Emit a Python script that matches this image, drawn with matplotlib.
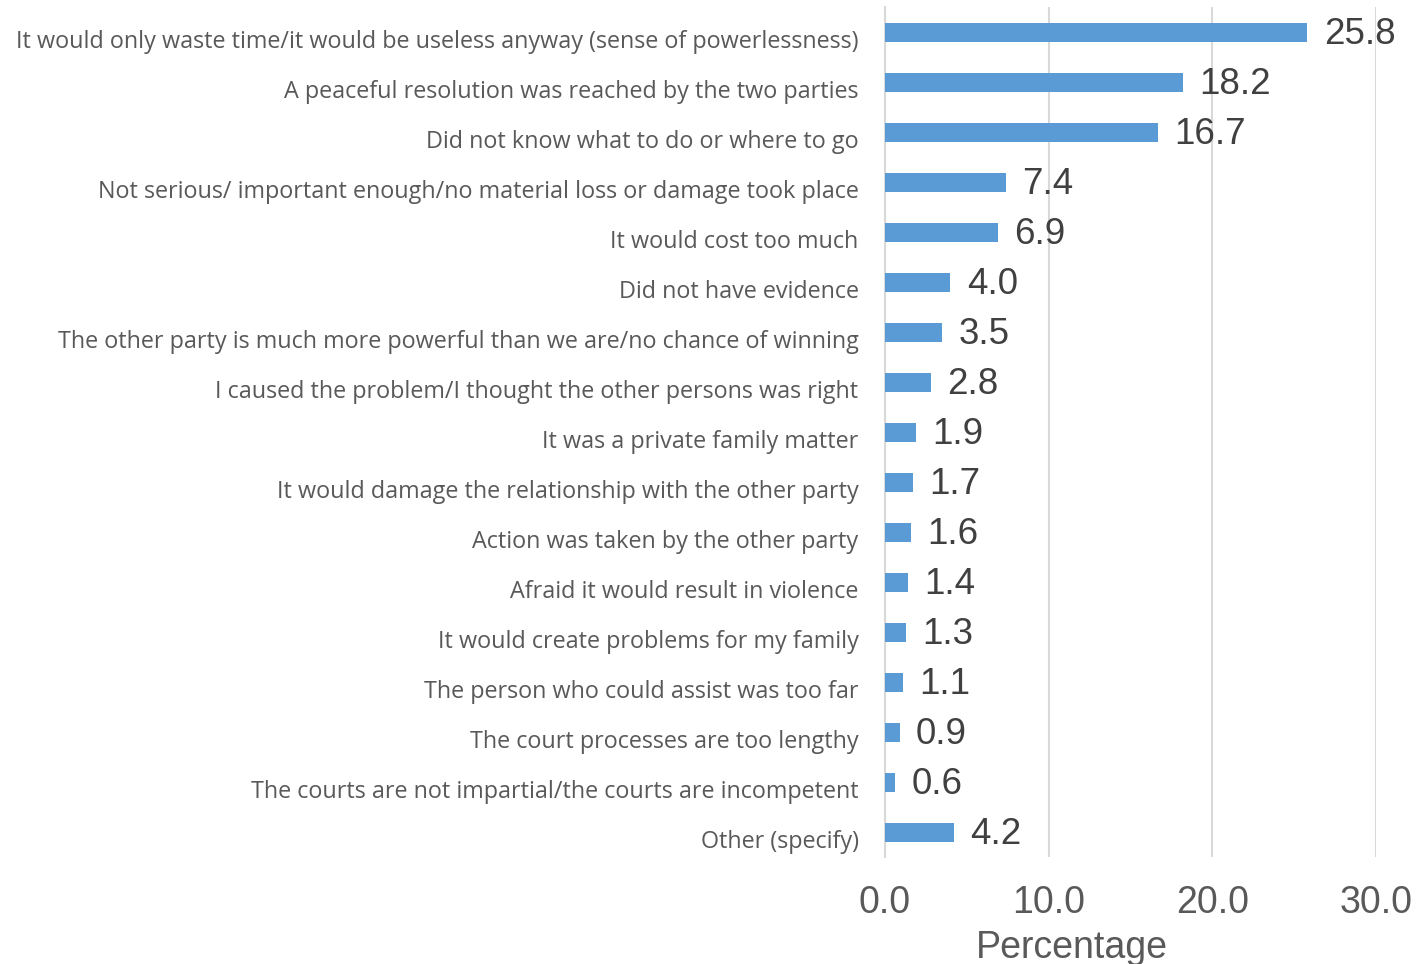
import matplotlib
matplotlib.use("Agg")
import matplotlib.pyplot as plt
from matplotlib.transforms import ScaledTranslation

# reasons for not taking action, percentage of respondents
reasons = [
    "It would only waste time/it would be useless anyway (sense of powerlessness)",
    "A peaceful resolution was reached by the two parties",
    "Did not know what to do or where to go",
    "Not serious/ important enough/no material loss or damage took place",
    "It would cost too much",
    "Did not have evidence",
    "The other party is much more powerful than we are/no chance of winning",
    "I caused the problem/I thought the other persons was right",
    "It was a private family matter",
    "It would damage the relationship with the other party",
    "Action was taken by the other party",
    "Afraid it would result in violence",
    "It would create problems for my family",
    "The person who could assist was too far",
    "The court processes are too lengthy",
    "The courts are not impartial/the courts are incompetent",
    "Other (specify)",
]
percent = [25.8, 18.2, 16.7, 7.4, 6.9, 4.0, 3.5, 2.8, 1.9, 1.7, 1.6, 1.4, 1.3, 1.1, 0.9, 0.6, 4.2]
xticks = [0, 10, 20, 30]

fig = plt.figure(figsize=(14.28, 9.64), dpi=100)
ax = fig.add_axes([885 / 1428, 1 - 857 / 964, 491 / 1428, 850 / 964])

ypos = list(range(len(reasons)))
ax.barh(ypos, percent, height=0.38, color="#5b9bd5", zorder=3)

down3 = ScaledTranslation(0, -3 / 100, fig.dpi_scale_trans)
for y, v in zip(ypos, percent):
    ax.text(v + 1.0, y, f"{v:.1f}", va="center", ha="left",
            fontsize=26.5, color="#404040", family="Liberation Sans", zorder=4,
            transform=ax.transData + down3)

ax.set_ylim(len(reasons) - 0.5, -0.5)
ax.set_xlim(0, 30)
ax.set_yticks(ypos)
ax.set_yticklabels(reasons, fontsize=16.8, color="#595959", family="Open Sans")
ax.set_xticks(xticks)
ax.set_xticklabels([f"{t:.1f}" for t in xticks], fontsize=27, color="#595959",
                   family="Liberation Sans")
ax.tick_params(axis="both", length=0)
ax.tick_params(axis="y", pad=19)
ax.tick_params(axis="x", pad=20)

# category labels sit a little lower than the bars
down7 = ScaledTranslation(0, -7 / 100, fig.dpi_scale_trans)
for lab in ax.get_yticklabels():
    lab.set_transform(lab.get_transform() + down7)

ax.set_xlabel("Percentage", fontsize=27, color="#595959", family="Liberation Sans")
ax.xaxis.set_label_coords((1072 - 885) / 491, -91 / 850)
ax.xaxis.label.set_va("center")

ax.grid(axis="x", color="#d9d9d9", linewidth=1.5, zorder=0)
for s in ["top", "right", "bottom"]:
    ax.spines[s].set_visible(False)
ax.spines["left"].set_color("#d9d9d9")
ax.spines["left"].set_linewidth(1.5)

fig.savefig("out.png", dpi=100)
